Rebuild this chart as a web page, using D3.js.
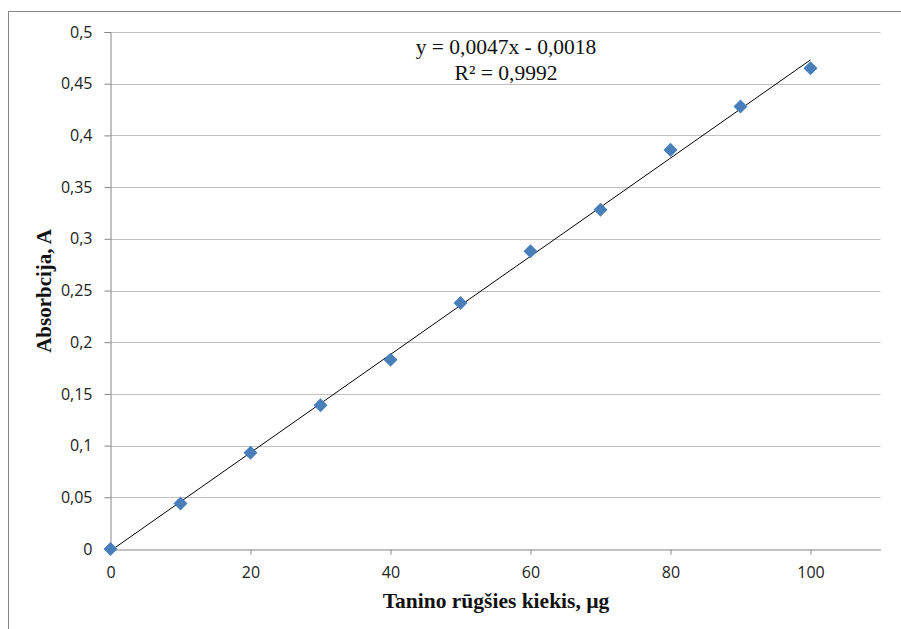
<!DOCTYPE html>
<html>
<head>
<meta charset="utf-8">
<script src="https://cdn.jsdelivr.net/npm/d3@7"></script>
<style>
  body { margin: 0; background: #fff; }
</style>
</head>
<body>
<div id="chart"></div>
<script>
// data
var xValues = [0, 10, 20, 30, 40, 50, 60, 70, 80, 90, 100];
var yValues = [0, 0.044, 0.093, 0.139, 0.183, 0.238, 0.288, 0.328, 0.386, 0.428, 0.465];
var xTicks = [0, 20, 40, 60, 80, 100];
var yTicks = [0, 0.05, 0.1, 0.15, 0.2, 0.25, 0.3, 0.35, 0.4, 0.45, 0.5];
var equationText = "y = 0,0047x - 0,0018";
var r2Text = "R² = 0,9992";

var W = 901, H = 629;
var margin = {top: 32, right: 20, bottom: 80, left: 110.5};

var svg = d3.select("#chart").append("svg")
  .attr("width", W)
  .attr("height", H);

// outer chart border
svg.append("rect")
  .attr("x", 8.5).attr("y", 11.5)
  .attr("width", 900).attr("height", 640)
  .attr("fill", "none")
  .attr("stroke", "#878787");

var x = d3.scaleLinear().domain([0, 110]).range([margin.left, margin.left + 770]);
var y = d3.scaleLinear().domain([0, 0.5]).range([549, 32]);

var fmt = function(d) { return String(d).replace(".", ","); };

// gridlines
svg.append("g")
  .selectAll("line")
  .data(yTicks.filter(function(d) { return d > 0; }))
  .enter().append("line")
    .attr("x1", x(0)).attr("x2", x(110))
    .attr("y1", function(d) { return Math.round(y(d)) + 0.5; })
    .attr("y2", function(d) { return Math.round(y(d)) + 0.5; })
    .attr("stroke", "#c0c0c0");

// Y axis
var yAxis = svg.append("g")
  .attr("transform", "translate(" + x(0) + ",0)")
  .call(d3.axisLeft(y).tickValues(yTicks).tickFormat(fmt).tickSize(6).tickPadding(12));
yAxis.select(".domain").attr("stroke", "#868686");
yAxis.selectAll(".tick line").attr("stroke", "#868686");
yAxis.attr("font-family", "'Open Sans', sans-serif").attr("font-size", 16);
yAxis.selectAll("text").attr("fill", "#222");

// X axis
var xAxis = svg.append("g")
  .attr("transform", "translate(0," + (y(0) + 0.5) + ")")
  .call(d3.axisBottom(x).tickValues(xTicks).tickSize(5).tickPadding(12).tickSizeOuter(0));
xAxis.select(".domain").attr("stroke", "#868686");
xAxis.selectAll(".tick line").attr("stroke", "#868686");
xAxis.attr("font-family", "'Open Sans', sans-serif").attr("font-size", 16);
xAxis.selectAll("text").attr("fill", "#222");

// linear trendline (least squares fit of the points)
var n = xValues.length;
var mx = d3.mean(xValues), my = d3.mean(yValues);
var sxy = 0, sxx = 0;
for (var i = 0; i < n; i++) {
  sxy += (xValues[i] - mx) * (yValues[i] - my);
  sxx += (xValues[i] - mx) * (xValues[i] - mx);
}
var slope = sxy / sxx, intercept = my - slope * mx;
var x0 = d3.min(xValues), x1 = d3.max(xValues);

svg.append("line")
  .attr("x1", x(x0)).attr("y1", y(intercept + slope * x0))
  .attr("x2", x(x1)).attr("y2", y(intercept + slope * x1))
  .attr("stroke", "#000")
  .attr("stroke-width", 1);

// diamond markers
var pts = xValues.map(function(d, i) { return {x: d, y: yValues[i]}; });
svg.append("g")
  .selectAll("path")
  .data(pts)
  .enter().append("path")
    .attr("d", d3.symbol().type(d3.symbolDiamond2).size(125))
    .attr("transform", function(d) { return "translate(" + x(d.x) + "," + y(d.y) + ")"; })
    .attr("fill", "#4a7ebb");

// equation labels
svg.append("text")
  .attr("x", 506).attr("y", 54)
  .attr("text-anchor", "middle")
  .attr("font-family", "'Liberation Serif', serif")
  .attr("font-size", 21.5)
  .attr("fill", "#111")
  .text(equationText);
svg.append("text")
  .attr("x", 506).attr("y", 80)
  .attr("text-anchor", "middle")
  .attr("font-family", "'Liberation Serif', serif")
  .attr("font-size", 21.5)
  .attr("fill", "#111")
  .text(r2Text);

// axis titles
svg.append("text")
  .attr("x", 496).attr("y", 608)
  .attr("text-anchor", "middle")
  .attr("font-family", "'Liberation Serif', serif")
  .attr("font-weight", "bold")
  .attr("font-size", 21.5)
  .attr("fill", "#111")
  .text("Tanino rūgšies kiekis, µg");

svg.append("text")
  .attr("transform", "translate(51,291) rotate(-90)")
  .attr("text-anchor", "middle")
  .attr("font-family", "'Liberation Serif', serif")
  .attr("font-weight", "bold")
  .attr("font-size", 21)
  .attr("fill", "#111")
  .text("Absorbcija, A");
</script>
</body>
</html>
